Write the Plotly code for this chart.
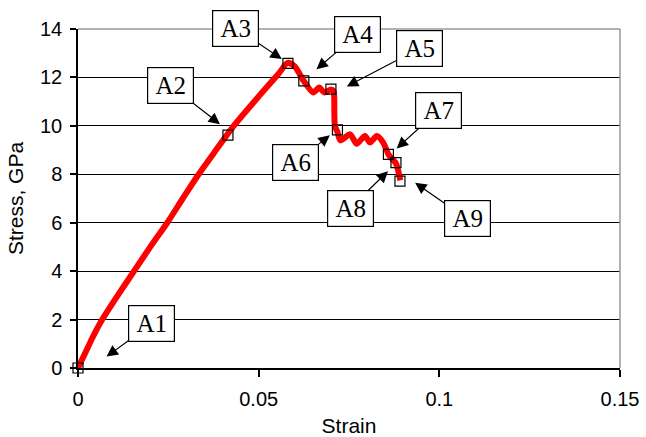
import plotly.graph_objects as go

# Stress-strain curve
curve_strain = [0.0, 0.0020, 0.0040, 0.0067, 0.0110, 0.0155, 0.0200, 0.0247, 0.0290, 0.0334,
                0.0382, 0.0431, 0.0505, 0.0555, 0.0580, 0.0600, 0.0625, 0.0651, 0.0668, 0.0682,
                0.0700, 0.0707, 0.0709, 0.0711, 0.0718, 0.0726, 0.0753, 0.0771, 0.0794, 0.0808,
                0.0827, 0.0845, 0.0860, 0.0880, 0.0892]
curve_stress = [0.0, 0.62, 1.25, 2.0, 3.0, 4.0, 5.0, 6.0, 7.0, 8.0,
                9.0, 10.0, 11.3, 12.15, 12.6, 12.45, 11.85, 11.38, 11.58, 11.38,
                11.5, 11.45, 11.2, 10.0, 9.75, 9.4, 9.65, 9.26, 9.58, 9.31,
                9.58, 9.3, 8.8, 8.45, 7.75]

# Marked points A1..A9
marker_strain = [0.0, 0.0415, 0.0581, 0.0625, 0.0700, 0.0718, 0.0859, 0.0880, 0.0891]
marker_stress = [0.0, 9.62, 12.58, 11.86, 11.52, 9.83, 8.82, 8.48, 7.72]

# Annotation labels and arrow tips
label_text = ["A1", "A2", "A3", "A4", "A5", "A6", "A7", "A8", "A9"]
tip_strain = [0.0079, 0.0393, 0.0564, 0.0660, 0.0744, 0.0697, 0.0882, 0.0858, 0.0933]
tip_stress = [0.47, 10.07, 12.76, 12.34, 11.63, 9.61, 9.07, 8.13, 7.65]
label_dx = [45, -50, -46, 41, 73, -34, 42, -38, 52]
label_dy = [-33, -39, -31, -35, -38, 27, -38, 37, 36]

x_ticks = [0, 0.05, 0.1, 0.15]
x_ticklabels = ["0", "0.05", "0.1", "0.15"]
y_ticks = [0, 2, 4, 6, 8, 10, 12, 14]

fig = go.Figure()
fig.add_trace(go.Scatter(x=curve_strain, y=curve_stress, mode="lines",
                         line=dict(color="#ff0000", width=6, shape="spline", smoothing=0.7),
                         showlegend=False, cliponaxis=False))
fig.add_trace(go.Scatter(x=marker_strain, y=marker_stress, mode="markers",
                         marker=dict(symbol="square-open", size=10, color="black",
                                     line=dict(width=1.2, color="black")),
                         showlegend=False, cliponaxis=False))

for t, x, y, dx, dy in zip(label_text, tip_strain, tip_stress, label_dx, label_dy):
    fig.add_annotation(x=x, y=y, text=t, showarrow=True, ax=dx, ay=dy,
                       arrowhead=2, arrowsize=1.9, arrowwidth=1.2, arrowcolor="black",
                       standoff=0, width=39, height=29,
                       font=dict(family="Liberation Serif, Times New Roman, serif", size=25, color="black"),
                       bgcolor="white", bordercolor="black", borderwidth=1.2, borderpad=3)

# gray plot-area border (top and right)
fig.add_shape(type="line", xref="paper", yref="paper", x0=0, x1=1, y0=1, y1=1,
              line=dict(color="#999999", width=1.5), layer="above")
fig.add_shape(type="line", xref="paper", yref="paper", x0=1, x1=1, y0=0, y1=1,
              line=dict(color="#999999", width=1.5), layer="above")

axis_font = dict(family="Liberation Sans, Arial, sans-serif", size=20, color="black")
title_font = dict(family="Liberation Sans, Arial, sans-serif", size=21, color="black")
fig.update_layout(
    width=646, height=437,
    margin=dict(l=78, r=26, t=29, b=69),
    plot_bgcolor="white", paper_bgcolor="white",
    xaxis=dict(range=[0, 0.15], tickvals=x_ticks, ticktext=x_ticklabels, automargin=False,
               showgrid=False, zeroline=False, showline=True, linecolor="black", linewidth=1.5,
               ticks="outside", ticklen=7, tickcolor="black", tickwidth=1.5,
               tickfont=axis_font, ticklabelstandoff=5,
               title=dict(text="Strain", font=title_font, standoff=12)),
    yaxis=dict(range=[0, 14], tickvals=y_ticks, automargin=False,
               showgrid=True, gridcolor="black", gridwidth=1.2, zeroline=False,
               showline=True, linecolor="black", linewidth=1.5,
               ticks="outside", ticklen=6, tickcolor="black", tickwidth=1.5,
               tickfont=axis_font, ticklabelstandoff=4,
               title=dict(text="Stress, GPa", font=title_font, standoff=11)),
)

fig.write_html("out.html")
